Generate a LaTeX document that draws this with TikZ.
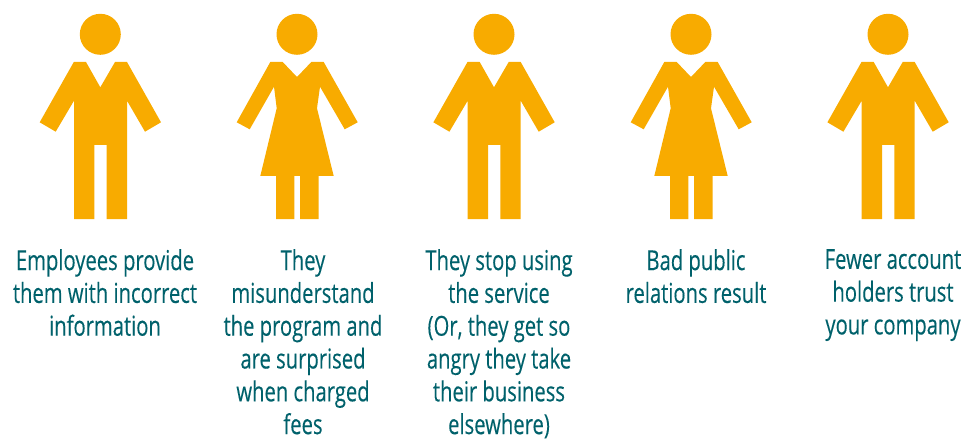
\documentclass[tikz,border=0pt]{standalone}
\usepackage{fontspec}
\setmainfont[FakeStretch=0.735,FakeBold=0.2]{Open Sans}
\definecolor{fig}{HTML}{F8AB00}
\definecolor{cap}{HTML}{00616B}
\tikzset{x=1pt,y=-1pt,
  figfill/.style={fill=fig,draw=none},
  captxt/.style={text=cap,align=center,anchor=north,inner sep=0pt,font=\fontsize{27.5}{32.8}\selectfont},
  man/.pic={
    \fill[figfill] (0,34.3) circle[radius=20.5];
    \fill[figfill] (-26.5,62)--(-14.3,62)--(0,87.3)--(14.7,62)--(26.7,62)--(60.7,122.3)--(44.7,131.7)--(26.7,100.7)--(26.7,219)--(6.4,219)--(6.4,145)--(-6,145)--(-6,219)--(-26.3,219)--(-26.3,100.7)--(-44.6,131.7)--(-60.6,122.3)--cycle;
  },
  woman/.pic={
    \fill[figfill] (0,34.3) circle[radius=20.5];
    \fill[figfill] (-26.7,62)--(-14.3,62)--(0,77)--(14.3,62)--(26.7,62)--(60.7,122.3)--(47.7,129.3)--(23,86.7)--(20,108.3)--(36.7,176)--(21.7,176)--(21.7,219)--(3,219)--(3,176)--(-2.7,176)--(-2.7,219)--(-21,219)--(-21,176)--(-36.7,176)--(-20.3,108.3)--(-23,86.7)--(-47.3,129.3)--(-60.3,122.3)--cycle;
  }}
\begin{document}
\begin{tikzpicture}
\useasboundingbox (0,0) rectangle (967,441);
\pic at (100.3,0) {man};
\pic at (297,0) {woman};
\pic at (494,0) {man};
\pic at (691,0) {woman};
\pic at (888,0) {man};
\node[captxt] (c1) at (105,249) {Employees provide\\them with incorrect\\information};
\node[captxt] (c2) at (303,249) {They\\misunderstand\\the program and\\are surprised\\when charged\\fees};
\node[captxt] (c3) at (499,249) {They stop using\\the service\\(Or, they get so\\angry they take\\their business\\elsewhere)};
\node[captxt] (c4) at (696,249) {Bad public\\relations result};
\node[captxt] (c5) at (893,249) {Fewer account\\holders trust\\your company};
\end{tikzpicture}
\end{document}
